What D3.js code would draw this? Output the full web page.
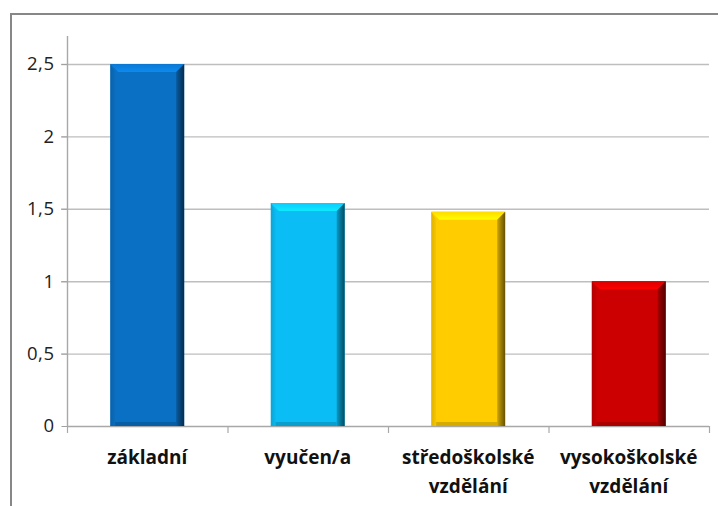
<!DOCTYPE html>
<html>
<head>
<meta charset="utf-8">
<script src="https://cdn.jsdelivr.net/npm/d3@7"></script>
<style>
  html, body { margin: 0; padding: 0; background: #fff; }
  svg { display: block; }
</style>
</head>
<body>
<svg id="chart" width="718" height="506"></svg>
<script>
// Education levels and their values
const categories = [["základní"], ["vyučen/a"], ["středoškolské", "vzdělání"], ["vysokoškolské", "vzdělání"]];
const values = [2.5, 1.54, 1.48, 1.0];
const barColors = ["#0A70C4", "#0BBDF5", "#FFCC00", "#CC0000"];
const yTicks = [0, 0.5, 1, 1.5, 2, 2.5];

const svg = d3.select("#chart");
const W = 718, H = 506;
const plot = { left: 67, right: 709, top: 36, bottom: 426 };

// Outer chart frame (runs past the right and bottom edges)
svg.append("rect")
  .attr("x", 11).attr("y", 14)
  .attr("width", W).attr("height", H)
  .attr("fill", "none").attr("stroke", "#878787").attr("stroke-width", 2);

const x = d3.scaleBand()
  .domain(d3.range(categories.length))
  .range([plot.left, plot.right])
  .paddingInner(0.54).paddingOuter(0.27);

const y = d3.scaleLinear().domain([0, 2.5]).range([plot.bottom, 64]);

// Horizontal gridlines
svg.append("g").selectAll("line").data(yTicks.filter(d => d > 0)).join("line")
  .attr("x1", plot.left - 6).attr("x2", plot.right)
  .attr("y1", d => y(d) + 0.5).attr("y2", d => y(d) + 0.5)
  .attr("stroke", "#BEBEBE").attr("stroke-width", 1.4);

// Y axis
const yAxis = d3.axisLeft(y).tickValues(yTicks).tickSize(6).tickPadding(7)
  .tickFormat(d => d3.format("~g")(d).replace(".", ","));
const gy = svg.append("g").attr("transform", `translate(${plot.left + 0.5},0)`).call(yAxis);
gy.select(".domain").remove();
gy.selectAll(".tick line").attr("stroke", "#A0A0A0");
gy.selectAll(".tick text")
  .attr("font-family", "'Open Sans', sans-serif")
  .attr("font-size", 18.5).attr("fill", "#222")
  .attr("letter-spacing", 0.5);
svg.append("line")
  .attr("x1", plot.left + 0.5).attr("x2", plot.left + 0.5)
  .attr("y1", plot.top).attr("y2", plot.bottom)
  .attr("stroke", "#A8A8A8").attr("stroke-width", 1.4);

// X axis line and category dividers
svg.append("line")
  .attr("x1", plot.left).attr("x2", plot.right)
  .attr("y1", plot.bottom + 0.5).attr("y2", plot.bottom + 0.5)
  .attr("stroke", "#A8A8A8").attr("stroke-width", 1.4);
const dividers = d3.range(categories.length + 1).map(i => plot.left + i * (plot.right - plot.left) / categories.length);
svg.append("g").selectAll("line").data(dividers).join("line")
  .attr("x1", d => d + 0.5).attr("x2", d => d + 0.5)
  .attr("y1", plot.bottom).attr("y2", plot.bottom + 7)
  .attr("stroke", "#A8A8A8").attr("stroke-width", 1.2);

// Gradients for bevelled bars
const defs = svg.append("defs");
barColors.forEach((c, i) => {
  const base = d3.color(c);
  const gRight = defs.append("linearGradient").attr("id", "gr" + i)
    .attr("x1", 0).attr("x2", 1).attr("y1", 0).attr("y2", 0);
  gRight.append("stop").attr("offset", 0).attr("stop-color", base.darker(0.6));
  gRight.append("stop").attr("offset", 1).attr("stop-color", base.darker(2.6));
  const gTop = defs.append("linearGradient").attr("id", "gt" + i)
    .attr("x1", 0).attr("x2", 0).attr("y1", 0).attr("y2", 1);
  gTop.append("stop").attr("offset", 0).attr("stop-color", base.brighter(0.2));
  gTop.append("stop").attr("offset", 1).attr("stop-color", base.brighter(0.6));
  const gLeft = defs.append("linearGradient").attr("id", "gl" + i)
    .attr("x1", 0).attr("x2", 1).attr("y1", 0).attr("y2", 0);
  gLeft.append("stop").attr("offset", 0).attr("stop-color", base.darker(0.5));
  gLeft.append("stop").attr("offset", 1).attr("stop-color", base.darker(0.1));
});

// Bars with bevel facets
const bev = 8;
const bars = svg.append("g").selectAll("g").data(values).join("g");
bars.each(function(v, i) {
  const g = d3.select(this);
  const x0 = x(i), x1 = x(i) + x.bandwidth();
  const y0 = y(v), y1 = y(0);
  const base = d3.color(barColors[i]);
  g.append("rect").attr("x", x0).attr("y", y0).attr("width", x1 - x0).attr("height", y1 - y0)
    .attr("fill", base);
  // top facet
  g.append("polygon")
    .attr("points", [[x0, y0], [x1, y0], [x1 - bev, y0 + bev], [x0 + bev, y0 + bev]].join(" "))
    .attr("fill", `url(#gt${i})`);
  // left facet
  g.append("polygon")
    .attr("points", [[x0, y0], [x0 + bev * 0.6, y0 + bev], [x0 + bev * 0.6, y1], [x0, y1]].join(" "))
    .attr("fill", `url(#gl${i})`).attr("opacity", 0.8);
  // right facet
  g.append("polygon")
    .attr("points", [[x1, y0], [x1, y1], [x1 - bev, y1], [x1 - bev, y0 + bev]].join(" "))
    .attr("fill", `url(#gr${i})`);
  // bottom facet
  g.append("polygon")
    .attr("points", [[x0 + bev * 0.6, y1 - 4], [x1 - bev, y1 - 4], [x1 - bev, y1], [x0 + bev * 0.6, y1]].join(" "))
    .attr("fill", base.darker(0.5));
});

// Category labels
const labels = svg.append("g").selectAll("text").data(categories).join("text")
  .attr("x", (d, i) => x(i) + x.bandwidth() / 2)
  .attr("y", 464)
  .attr("text-anchor", "middle")
  .attr("font-family", "'Open Sans', sans-serif")
  .attr("font-weight", "bold")
  .attr("font-size", 19)
  .attr("fill", "#111");
labels.selectAll("tspan").data(d => d).join("tspan")
  .attr("x", function() { return d3.select(this.parentNode).attr("x"); })
  .attr("dy", (d, j) => j === 0 ? 0 : 29)
  .text(d => d);
</script>
</body>
</html>
